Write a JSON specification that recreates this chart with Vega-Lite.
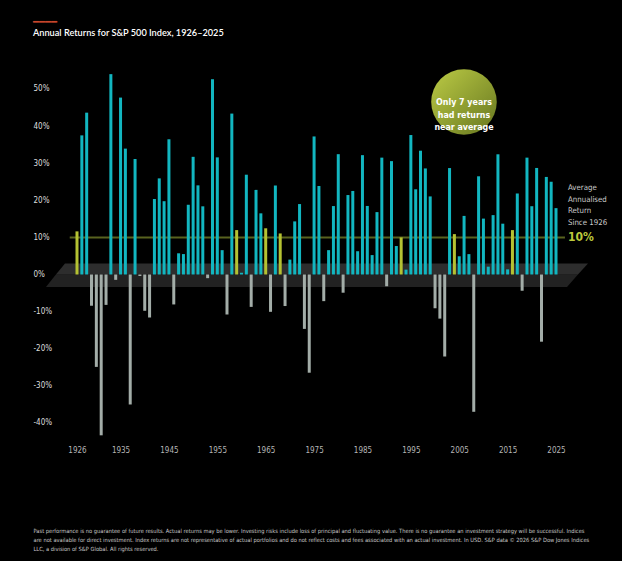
{
  "$schema": "https://vega.github.io/schema/vega-lite/v6.json",
  "autosize": {"type": "none"},
  "width": 555,
  "height": 380,
  "padding": {"left": 40, "top": 60, "right": 27, "bottom": 121},
  "background": "#000000",
  "config": {"view": {"stroke": null}},
  "title": {
    "text": "━━━━",
    "subtitle": "Annual Returns for S&P 500 Index, 1926–2025",
    "anchor": "start",
    "frame": "group",
    "dx": -7,
    "offset": 22,
    "color": "#c8462c",
    "fontSize": 10,
    "fontWeight": "normal",
    "font": "DejaVu Sans Mono",
    "lineHeight": 8,
    "subtitleColor": "#ffffff",
    "subtitleFont": "Lato",
    "subtitleFontSize": 9.2,
    "subtitleFontWeight": 600,
    "subtitlePadding": 2
  },
  "datasets": {
    "returns": [
      {"year": 1926, "ret": 11.62, "group": "near"},
      {"year": 1927, "ret": 37.49, "group": "up"},
      {"year": 1928, "ret": 43.61, "group": "up"},
      {"year": 1929, "ret": -8.42, "group": "down"},
      {"year": 1930, "ret": -24.90, "group": "down"},
      {"year": 1931, "ret": -43.34, "group": "down"},
      {"year": 1932, "ret": -8.19, "group": "down"},
      {"year": 1933, "ret": 53.99, "group": "up"},
      {"year": 1934, "ret": -1.44, "group": "down"},
      {"year": 1935, "ret": 47.67, "group": "up"},
      {"year": 1936, "ret": 33.92, "group": "up"},
      {"year": 1937, "ret": -35.03, "group": "down"},
      {"year": 1938, "ret": 31.12, "group": "up"},
      {"year": 1939, "ret": -0.41, "group": "down"},
      {"year": 1940, "ret": -9.78, "group": "down"},
      {"year": 1941, "ret": -11.59, "group": "down"},
      {"year": 1942, "ret": 20.34, "group": "up"},
      {"year": 1943, "ret": 25.90, "group": "up"},
      {"year": 1944, "ret": 19.75, "group": "up"},
      {"year": 1945, "ret": 36.44, "group": "up"},
      {"year": 1946, "ret": -8.07, "group": "down"},
      {"year": 1947, "ret": 5.71, "group": "up"},
      {"year": 1948, "ret": 5.50, "group": "up"},
      {"year": 1949, "ret": 18.79, "group": "up"},
      {"year": 1950, "ret": 31.71, "group": "up"},
      {"year": 1951, "ret": 24.02, "group": "up"},
      {"year": 1952, "ret": 18.37, "group": "up"},
      {"year": 1953, "ret": -0.99, "group": "down"},
      {"year": 1954, "ret": 52.62, "group": "up"},
      {"year": 1955, "ret": 31.56, "group": "up"},
      {"year": 1956, "ret": 6.56, "group": "up"},
      {"year": 1957, "ret": -10.78, "group": "down"},
      {"year": 1958, "ret": 43.36, "group": "up"},
      {"year": 1959, "ret": 11.96, "group": "near"},
      {"year": 1960, "ret": 0.47, "group": "up"},
      {"year": 1961, "ret": 26.89, "group": "up"},
      {"year": 1962, "ret": -8.73, "group": "down"},
      {"year": 1963, "ret": 22.80, "group": "up"},
      {"year": 1964, "ret": 16.48, "group": "up"},
      {"year": 1965, "ret": 12.45, "group": "near"},
      {"year": 1966, "ret": -10.06, "group": "down"},
      {"year": 1967, "ret": 23.98, "group": "up"},
      {"year": 1968, "ret": 11.06, "group": "near"},
      {"year": 1969, "ret": -8.50, "group": "down"},
      {"year": 1970, "ret": 4.01, "group": "up"},
      {"year": 1971, "ret": 14.31, "group": "up"},
      {"year": 1972, "ret": 18.98, "group": "up"},
      {"year": 1973, "ret": -14.66, "group": "down"},
      {"year": 1974, "ret": -26.47, "group": "down"},
      {"year": 1975, "ret": 37.20, "group": "up"},
      {"year": 1976, "ret": 23.84, "group": "up"},
      {"year": 1977, "ret": -7.18, "group": "down"},
      {"year": 1978, "ret": 6.56, "group": "up"},
      {"year": 1979, "ret": 18.44, "group": "up"},
      {"year": 1980, "ret": 32.42, "group": "up"},
      {"year": 1981, "ret": -4.91, "group": "down"},
      {"year": 1982, "ret": 21.41, "group": "up"},
      {"year": 1983, "ret": 22.51, "group": "up"},
      {"year": 1984, "ret": 6.27, "group": "up"},
      {"year": 1985, "ret": 32.16, "group": "up"},
      {"year": 1986, "ret": 18.47, "group": "up"},
      {"year": 1987, "ret": 5.23, "group": "up"},
      {"year": 1988, "ret": 16.81, "group": "up"},
      {"year": 1989, "ret": 31.49, "group": "up"},
      {"year": 1990, "ret": -3.17, "group": "down"},
      {"year": 1991, "ret": 30.55, "group": "up"},
      {"year": 1992, "ret": 7.67, "group": "up"},
      {"year": 1993, "ret": 9.99, "group": "near"},
      {"year": 1994, "ret": 1.31, "group": "up"},
      {"year": 1995, "ret": 37.58, "group": "up"},
      {"year": 1996, "ret": 22.96, "group": "up"},
      {"year": 1997, "ret": 33.36, "group": "up"},
      {"year": 1998, "ret": 28.58, "group": "up"},
      {"year": 1999, "ret": 21.04, "group": "up"},
      {"year": 2000, "ret": -9.10, "group": "down"},
      {"year": 2001, "ret": -11.89, "group": "down"},
      {"year": 2002, "ret": -22.10, "group": "down"},
      {"year": 2003, "ret": 28.68, "group": "up"},
      {"year": 2004, "ret": 10.88, "group": "near"},
      {"year": 2005, "ret": 4.91, "group": "up"},
      {"year": 2006, "ret": 15.79, "group": "up"},
      {"year": 2007, "ret": 5.49, "group": "up"},
      {"year": 2008, "ret": -37.00, "group": "down"},
      {"year": 2009, "ret": 26.46, "group": "up"},
      {"year": 2010, "ret": 15.06, "group": "up"},
      {"year": 2011, "ret": 2.11, "group": "up"},
      {"year": 2012, "ret": 16.00, "group": "up"},
      {"year": 2013, "ret": 32.39, "group": "up"},
      {"year": 2014, "ret": 13.69, "group": "up"},
      {"year": 2015, "ret": 1.38, "group": "up"},
      {"year": 2016, "ret": 11.96, "group": "near"},
      {"year": 2017, "ret": 21.83, "group": "up"},
      {"year": 2018, "ret": -4.38, "group": "down"},
      {"year": 2019, "ret": 31.49, "group": "up"},
      {"year": 2020, "ret": 18.40, "group": "up"},
      {"year": 2021, "ret": 28.71, "group": "up"},
      {"year": 2022, "ret": -18.11, "group": "down"},
      {"year": 2023, "ret": 26.29, "group": "up"},
      {"year": 2024, "ret": 25.02, "group": "up"},
      {"year": 2025, "ret": 17.88, "group": "up"}
    ],
    "platform": [
      {"face": "top", "x": 1921.6, "y": -0.1, "y2": -0.1},
      {"face": "top", "x": 1923.52, "y": -0.1, "y2": 2.96},
      {"face": "top", "x": 2029.49, "y": -0.1, "y2": 2.96},
      {"face": "top", "x": 2031.61, "y": 2.96, "y2": 2.96},
      {"face": "front", "x": 1919.59, "y": -3.37, "y2": -3.37},
      {"face": "front", "x": 1921.6, "y": -3.37, "y2": -0.1},
      {"face": "front", "x": 2027.27, "y": -3.37, "y2": -0.1},
      {"face": "front", "x": 2029.49, "y": -0.1, "y2": -0.1}
    ]
  },
  "layer": [
    {
      "data": {"name": "platform"},
      "transform": [{"filter": "datum.face == 'top'"}],
      "mark": {"type": "area", "orient": "vertical", "color": "#2d2d2d"},
      "encoding": {
        "x": {"field": "x", "type": "quantitative"},
        "y": {"field": "y", "type": "quantitative", "stack": null},
        "y2": {"field": "y2"}
      }
    },
    {
      "data": {"name": "platform"},
      "transform": [{"filter": "datum.face == 'front'"}],
      "mark": {"type": "area", "orient": "vertical", "color": "#222222"},
      "encoding": {
        "x": {"field": "x", "type": "quantitative"},
        "y": {"field": "y", "type": "quantitative", "stack": null},
        "y2": {"field": "y2"}
      }
    },
    {
      "data": {"values": [{}]},
      "mark": {"type": "rule", "color": "#58621f", "strokeWidth": 2},
      "encoding": {
        "x": {"datum": 1924.5, "type": "quantitative"},
        "x2": {"datum": 2026.85},
        "y": {"datum": 10, "type": "quantitative"}
      }
    },
    {
      "data": {"name": "returns"},
      "mark": {"type": "bar", "width": 3},
      "encoding": {
        "x": {
          "field": "year",
          "type": "quantitative",
          "scale": {"domain": [1918.353, 2033.06], "nice": false, "zero": false, "padding": 0},
          "axis": {
            "values": [1926, 1935, 1945, 1955, 1965, 1975, 1985, 1995, 2005, 2015, 2025],
            "format": "d",
            "domain": false,
            "ticks": false,
            "tickSize": 0,
            "grid": false,
            "labelPadding": 6,
            "labelColor": "#b5b5b5",
            "labelFont": "DejaVu Sans Condensed, Roboto, sans-serif",
            "labelFontSize": 8,
            "title": [
              "Past performance is no guarantee of future results. Actual returns may be lower. Investing risks include loss of principal and fluctuating value. There is no guarantee an investment strategy will be successful. Indices",
              "are not available for direct investment. Index returns are not representative of actual portfolios and do not reflect costs and fees associated with an actual investment. In USD. S&P data © 2026 S&P Dow Jones Indices",
              "LLC, a division of S&P Global. All rights reserved."
            ],
            "titleFont": "DejaVu Sans Condensed, Roboto, sans-serif",
            "titleFontSize": 5.7,
            "titleFontWeight": "normal",
            "titleColor": "#c8c8c8",
            "titleAlign": "left",
            "titleBaseline": "top",
            "titleX": -7,
            "titleY": 87,
            "titleLineHeight": 9
          }
        },
        "y": {
          "field": "ret",
          "type": "quantitative",
          "scale": {"domain": [-44.6, 57.8], "nice": false, "zero": false},
          "axis": {
            "values": [-40, -30, -20, -10, 0, 10, 20, 30, 40, 50],
            "labelExpr": "datum.value + '%'",
            "domain": false,
            "ticks": false,
            "tickSize": 0,
            "grid": false,
            "labelAlign": "left",
            "labelPadding": 7,
            "labelColor": "#dddddd",
            "labelFont": "DejaVu Sans Condensed, Roboto, sans-serif",
            "labelFontSize": 8,
            "title": null
          }
        },
        "y2": {"datum": 0},
        "color": {
          "field": "group",
          "type": "nominal",
          "scale": {"domain": ["up", "down", "near"], "range": ["#12b6c0", "#a3ada8", "#b5c232"]},
          "legend": null
        }
      }
    },
    {
      "data": {"values": [{}]},
      "mark": {
        "type": "point",
        "shape": "circle",
        "filled": true,
        "size": 4300,
        "opacity": 1,
        "fill": {
          "gradient": "linear",
          "x1": 0, "y1": 0, "x2": 1, "y2": 1,
          "stops": [
            {"offset": 0, "color": "#bccb45"},
            {"offset": 1, "color": "#66761f"}
          ]
        },
        "strokeWidth": 0
      },
      "encoding": {
        "x": {"datum": 2005.98, "type": "quantitative"},
        "y": {"datum": 46.48, "type": "quantitative"}
      }
    },
    {
      "data": {"values": [{}]},
      "mark": {
        "type": "text",
        "text": ["Only 7 years", "had returns", "near average"],
        "align": "center",
        "baseline": "middle",
        "lineHeight": 12.5,
        "font": "DejaVu Sans Condensed, Roboto, sans-serif",
        "fontWeight": "bold",
        "fontSize": 8.8,
        "color": "#ffffff"
      },
      "encoding": {
        "x": {"datum": 2005.98, "type": "quantitative"},
        "y": {"datum": 46.48, "type": "quantitative"}
      }
    },
    {
      "data": {"values": [{}]},
      "mark": {
        "type": "text",
        "text": ["Average", "Annualised", "Return", "Since 1926"],
        "align": "left",
        "baseline": "alphabetic",
        "lineHeight": 11.7,
        "font": "DejaVu Sans Condensed, Roboto, sans-serif",
        "fontSize": 7.8,
        "color": "#cccccc"
      },
      "encoding": {
        "x": {"datum": 2027.48, "type": "quantitative"},
        "y": {"datum": 22.77, "type": "quantitative"}
      }
    },
    {
      "data": {"values": [{}]},
      "mark": {
        "type": "text",
        "text": "10%",
        "align": "left",
        "baseline": "middle",
        "font": "DejaVu Sans Condensed, Roboto, sans-serif",
        "fontWeight": "bold",
        "fontSize": 12,
        "color": "#bcc93c"
      },
      "encoding": {
        "x": {"datum": 2027.48, "type": "quantitative"},
        "y": {"datum": 10, "type": "quantitative"}
      }
    }
  ]
}
